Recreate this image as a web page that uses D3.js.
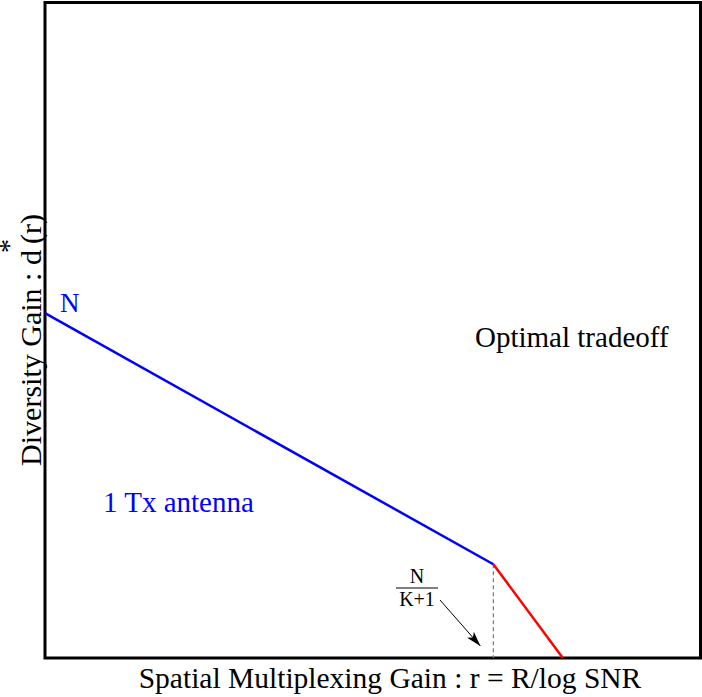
<!DOCTYPE html>
<html>
<head>
<meta charset="utf-8">
<script src="https://cdn.jsdelivr.net/npm/d3@7"></script>
<style>
  body { margin: 0; background: #fff; }
</style>
</head>
<body>
<svg id="chart" width="702" height="697"></svg>
<script>
// tradeoff curve, in plot units (r, d)
const oneTxCurve = [[0, 5.26], [6.84, 1.43]];
const optimalTail = [[6.84, 1.43], [7.9, 0]];
const breakR = 6.84;
const labels = {
  x: "Spatial Multiplexing Gain : r = R/log SNR",
  yHead: "Diversity Gain : d",
  yStar: "*",
  yTail: "(r)",
  optimal: "Optimal tradeoff",
  oneTx: "1 Tx antenna",
  n: "N"
};

const serif = "'Liberation Serif', 'Times New Roman', serif";

const svg = d3.select("#chart").attr("font-family", serif);
const pL = 45, pR = 700.5, pT = 2.5, pB = 658;

const x = d3.scaleLinear().domain([0, 10]).range([pL, pR]);
const y = d3.scaleLinear().domain([0, 10]).range([pB, pT]);

const line = d3.line().x(d => x(d[0])).y(d => y(d[1]));

// frame
svg.append("rect")
  .attr("x", pL).attr("y", pT)
  .attr("width", pR - pL).attr("height", pB - pT)
  .attr("fill", "none").attr("stroke", "#000").attr("stroke-width", 3);

// dashed marker at the break point
svg.append("line")
  .attr("x1", x(breakR)).attr("x2", x(breakR))
  .attr("y1", y(optimalTail[0][1])).attr("y2", pB)
  .attr("stroke", "#777").attr("stroke-width", 1.2)
  .attr("stroke-dasharray", "4,3");

svg.append("path").datum(oneTxCurve)
  .attr("d", line).attr("fill", "none")
  .attr("stroke", "#0000ff").attr("stroke-width", 2.5);

svg.append("path").datum(optimalTail)
  .attr("d", line).attr("fill", "none")
  .attr("stroke", "#ff0000").attr("stroke-width", 2.5);

// arrow
svg.append("defs").append("marker")
  .attr("id", "arr").attr("viewBox", "0 0 10 10")
  .attr("refX", 10).attr("refY", 5)
  .attr("markerWidth", 15).attr("markerHeight", 15)
  .attr("markerUnits", "userSpaceOnUse")
  .attr("orient", "auto")
  .append("path").attr("d", "M0,2 L10,5 L0,8 L2.5,5 Z").attr("fill", "#000");

svg.append("line")
  .attr("x1", 440).attr("y1", 600)
  .attr("x2", x(breakR) - 13).attr("y2", 646)
  .attr("stroke", "#000").attr("stroke-width", 1)
  .attr("marker-end", "url(#arr)");

// fraction N / (K+1)
const fx = 417;
svg.append("text").attr("x", fx).attr("y", 583)
  .attr("text-anchor", "middle").attr("font-size", 20).text("N");
svg.append("line").attr("x1", 396).attr("x2", 438)
  .attr("y1", 588).attr("y2", 588)
  .attr("stroke", "#000").attr("stroke-width", 1.2);
svg.append("text").attr("x", fx).attr("y", 606)
  .attr("text-anchor", "middle").attr("font-size", 20).text("K+1");

// annotations
svg.append("text").attr("x", 60).attr("y", 312)
  .attr("font-size", 27).attr("fill", "#0000ff").text(labels.n);

svg.append("text").attr("x", 103).attr("y", 512)
  .attr("font-size", 29).attr("fill", "#0000ff").text(labels.oneTx);

svg.append("text").attr("x", 475).attr("y", 347)
  .attr("font-size", 29).attr("fill", "#000").text(labels.optimal);

// axis titles
svg.append("text").attr("x", 390).attr("y", 688)
  .attr("text-anchor", "middle").attr("font-size", 29.5).text(labels.x);

// y title: d with a raised star, then (r)
const yl = svg.append("text")
  .attr("transform", "translate(41,340) rotate(-90)")
  .attr("text-anchor", "middle").attr("font-size", 30);
yl.append("tspan").text(labels.yHead);
yl.append("tspan").attr("dx", -3).attr("dy", -23).attr("font-size", 28).text(labels.yStar);
yl.append("tspan").attr("dx", -5).attr("dy", 23).text(labels.yTail);
</script>
</body>
</html>
